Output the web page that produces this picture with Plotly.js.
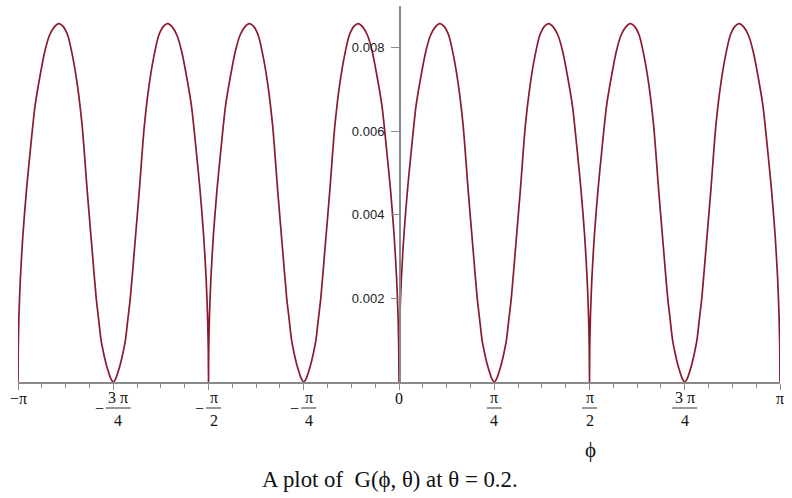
<!DOCTYPE html>
<html>
<head>
<meta charset="utf-8">
<script src="https://cdn.plot.ly/plotly-3.0.1.min.js"></script>
<style>
  html, body { margin: 0; padding: 0; background: #fff; }
  #chart { width: 792px; height: 498px; }
</style>
</head>
<body>
<div id="chart"></div>
<script>
// G(phi, 0.2), one line per arch between multiples of pi/4
const phi = [
  -3.1416, -3.1396, -3.1336, -3.1216, -3.1016, -3.0716, -3.0416, -3.0016, -2.9616, -2.9216, -2.8816, -2.8416, -2.8066, -2.7716, -2.7316, -2.6916, -2.6516, -2.6116, -2.5716, -2.5316, -2.4966, -2.4766, -2.4566, -2.4366, -2.4166, -2.3966, -2.3766, -2.3562,
  -2.3358, -2.3158, -2.2958, -2.2758, -2.2558, -2.2358, -2.2158, -2.1808, -2.1408, -2.1008, -2.0608, -2.0208, -1.9808, -1.9408, -1.9058, -1.8708, -1.8308, -1.7908, -1.7508, -1.7108, -1.6708, -1.6408, -1.6108, -1.5908, -1.5788, -1.5728, -1.5708,
  -1.5688, -1.5628, -1.5508, -1.5308, -1.5008, -1.4708, -1.4308, -1.3908, -1.3508, -1.3108, -1.2708, -1.2358, -1.2008, -1.1608, -1.1208, -1.0808, -1.0408, -1.0008, -0.9608, -0.9258, -0.9058, -0.8858, -0.8658, -0.8458, -0.8258, -0.8058, -0.7854,
  -0.765, -0.745, -0.725, -0.705, -0.685, -0.665, -0.645, -0.61, -0.57, -0.53, -0.49, -0.45, -0.41, -0.37, -0.335, -0.30, -0.26, -0.22, -0.18, -0.14, -0.10, -0.07, -0.04, -0.02, -0.008, -0.002, 0,
  0.002, 0.008, 0.02, 0.04, 0.07, 0.10, 0.14, 0.18, 0.22, 0.26, 0.30, 0.335, 0.37, 0.41, 0.45, 0.49, 0.53, 0.57, 0.61, 0.645, 0.665, 0.685, 0.705, 0.725, 0.745, 0.765, 0.7854,
  0.8058, 0.8258, 0.8458, 0.8658, 0.8858, 0.9058, 0.9258, 0.9608, 1.0008, 1.0408, 1.0808, 1.1208, 1.1608, 1.2008, 1.2358, 1.2708, 1.3108, 1.3508, 1.3908, 1.4308, 1.4708, 1.5008, 1.5308, 1.5508, 1.5628, 1.5688, 1.5708,
  1.5728, 1.5788, 1.5908, 1.6108, 1.6408, 1.6708, 1.7108, 1.7508, 1.7908, 1.8308, 1.8708, 1.9058, 1.9408, 1.9808, 2.0208, 2.0608, 2.1008, 2.1408, 2.1808, 2.2158, 2.2358, 2.2558, 2.2758, 2.2958, 2.3158, 2.3358, 2.3562,
  2.3766, 2.3966, 2.4166, 2.4366, 2.4566, 2.4766, 2.4966, 2.5316, 2.5716, 2.6116, 2.6516, 2.6916, 2.7316, 2.7716, 2.8066, 2.8416, 2.8816, 2.9216, 2.9616, 3.0016, 3.0416, 3.0716, 3.1016, 3.1216, 3.1336, 3.1396, 3.1416
];

const G = [
  0, .0008, .0016, .0025, .0035, .0046, .0055, .0066, .0073, .0079, .0083, .0085, .00858, .00852, .0083, .0078, .0071, .0061, .0046, .0032, .0020, .0015, .0010, .0007, .00045, .00025, .00008, 0,
  .00008, .00025, .00045, .0007, .0010, .0015, .0020, .0032, .0046, .0061, .0071, .0078, .0083, .00852, .00858, .0085, .0083, .0079, .0073, .0066, .0055, .0046, .0035, .0025, .0016, .0008, 0,
  .0008, .0016, .0025, .0035, .0046, .0055, .0066, .0073, .0079, .0083, .0085, .00858, .00852, .0083, .0078, .0071, .0061, .0046, .0032, .0020, .0015, .0010, .0007, .00045, .00025, .00008, 0,
  .00008, .00025, .00045, .0007, .0010, .0015, .0020, .0032, .0046, .0061, .0071, .0078, .0083, .00852, .00858, .0085, .0083, .0079, .0073, .0066, .0055, .0046, .0035, .0025, .0016, .0008, 0,
  .0008, .0016, .0025, .0035, .0046, .0055, .0066, .0073, .0079, .0083, .0085, .00858, .00852, .0083, .0078, .0071, .0061, .0046, .0032, .0020, .0015, .0010, .0007, .00045, .00025, .00008, 0,
  .00008, .00025, .00045, .0007, .0010, .0015, .0020, .0032, .0046, .0061, .0071, .0078, .0083, .00852, .00858, .0085, .0083, .0079, .0073, .0066, .0055, .0046, .0035, .0025, .0016, .0008, 0,
  .0008, .0016, .0025, .0035, .0046, .0055, .0066, .0073, .0079, .0083, .0085, .00858, .00852, .0083, .0078, .0071, .0061, .0046, .0032, .0020, .0015, .0010, .0007, .00045, .00025, .00008, 0,
  .00008, .00025, .00045, .0007, .0010, .0015, .0020, .0032, .0046, .0061, .0071, .0078, .0083, .00852, .00858, .0085, .0083, .0079, .0073, .0066, .0055, .0046, .0035, .0025, .0016, .0008, 0
];

const PI = Math.PI;
const phiTicks = [-PI, -3*PI/4, -PI/2, -PI/4, 0, PI/4, PI/2, 3*PI/4, PI];
const phiTickLabels = ["−π", "−3 π/4", "−π/2", "−π/4", "0", "π/4", "π/2", "3 π/4", "π"];
const gTicks = [0.002, 0.004, 0.006, 0.008];

const caption = "A plot of  G(ϕ, θ) at θ = 0.2.";
const xLabel = "ϕ";

const serif = "Liberation Serif, Times New Roman, serif";
const axisGray = "#8a8a8a";
const tickFont = { family: serif, size: 16, color: "#111" };

// x tick labels drawn as fractions (annotations + a bar shape)
const annotations = [];
const shapes = [];
phiTicks.forEach((v, i) => {
  let lab = phiTickLabels[i];
  const neg = lab.startsWith("−");
  if (neg) lab = lab.slice(1);
  if (!lab.includes("/")) {
    annotations.push({
      x: v, y: 0, xref: "x", yref: "y", showarrow: false, yanchor: "middle",
      text: (neg ? "−" : "") + lab, yshift: -16, font: tickFont
    });
    return;
  }
  const [num, den] = lab.split("/");
  const half = num.length > 1 ? 12.5 : 7.5;
  const cx = neg ? 5 : 0;
  annotations.push({
    x: v, y: 0, xref: "x", yref: "y", showarrow: false, yanchor: "middle",
    text: num, xshift: cx, yshift: -15, font: tickFont
  });
  annotations.push({
    x: v, y: 0, xref: "x", yref: "y", showarrow: false, yanchor: "middle",
    text: den, xshift: cx, yshift: -38, font: tickFont
  });
  shapes.push({
    type: "line", xref: "x", yref: "paper", xsizemode: "pixel", ysizemode: "pixel",
    xanchor: v, yanchor: 0, x0: cx - half, x1: cx + half, y0: -26, y1: -26,
    line: { color: "#333", width: 1 }
  });
  if (neg) {
    annotations.push({
      x: v, y: 0, xref: "x", yref: "y", showarrow: false, yanchor: "middle",
      text: "−", xshift: cx - half - 6.5, yshift: -26, font: tickFont
    });
  }
});

annotations.push({
  x: 0.7507, y: 0, xref: "paper", yref: "paper", showarrow: false,
  xanchor: "center", yanchor: "middle",
  text: xLabel, yshift: -68, font: { family: serif, size: 21, color: "#111" }
});
annotations.push({
  x: 0.488, y: 0, xref: "paper", yref: "paper", showarrow: false,
  xanchor: "center", yanchor: "middle",
  text: caption, yshift: -97, font: { family: serif, size: 22.8, color: "#111" }
});

Plotly.newPlot("chart", [
  {
    x: phi,
    y: G,
    type: "scatter",
    mode: "lines",
    line: { color: "#8b1a2c", width: 1.7, shape: "spline", smoothing: 0.7 },
    hoverinfo: "skip"
  }
], {
  width: 792,
  height: 498,
  margin: { t: 6, r: 12, b: 116, l: 18 },
  paper_bgcolor: "#fff",
  plot_bgcolor: "#fff",
  showlegend: false,
  xaxis: {
    range: [-PI, PI],
    showgrid: false,
    zeroline: false,
    showline: true,
    linecolor: axisGray,
    linewidth: 1.5,
    tickmode: "array",
    tickvals: phiTicks,
    showticklabels: false,
    ticks: "outside",
    ticklen: 6,
    tickcolor: axisGray,
    minor: { tick0: -PI, dtick: PI / 16, ticks: "outside", ticklen: 4, tickcolor: axisGray }
  },
  yaxis: {
    range: [0, 0.009],
    anchor: "free",
    position: 0.5,
    showgrid: false,
    zeroline: false,
    showline: true,
    linecolor: axisGray,
    linewidth: 1.5,
    tickmode: "array",
    tickvals: gTicks,
    tickformat: ".3f",
    ticks: "outside",
    ticklen: 8,
    tickcolor: axisGray,
    ticklabelstandoff: 4,
    tickfont: { family: "Liberation Sans, Arial, sans-serif", size: 13, color: "#222" }
  },
  annotations: annotations,
  shapes: shapes
}, { displayModeBar: false, staticPlot: true });
</script>
</body>
</html>
